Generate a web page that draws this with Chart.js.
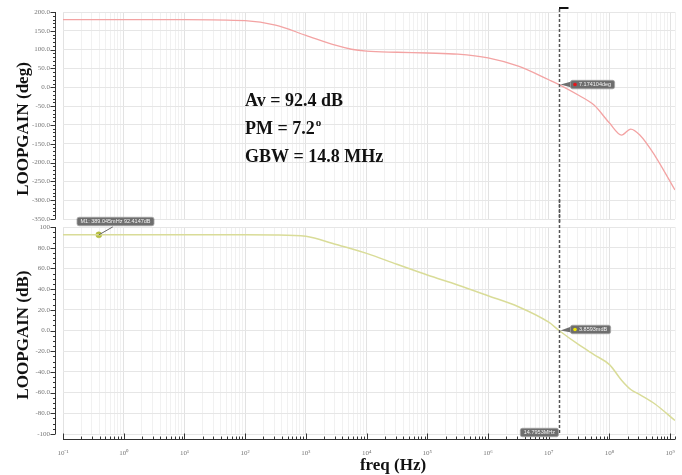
<!DOCTYPE html>
<html>
<head>
<meta charset="utf-8">
<script src="https://cdn.jsdelivr.net/npm/chart.js@4.4.0/dist/chart.umd.min.js"></script>
<style>
  html, body { margin:0; padding:0; background:#fff; }
  #wrap { position:relative; width:682px; height:475px; overflow:hidden; background:#fff; }
  #wrap canvas { position:absolute; left:0; }
  #cPhase { top:0; }
  #cGain { top:200px; }
</style>
</head>
<body>
<div id="wrap">
  <canvas id="cPhase" width="682" height="223"></canvas>
  <canvas id="cGain" width="682" height="275"></canvas>
</div>
<script>
// data
var freqs    = [0.1, 1, 10, 100, 316, 1000, 3162, 5623, 1e4, 3.16e4, 1e5, 3.16e5, 1e6, 3.16e6, 1e7, 1.48e7, 3.16e7, 5.62e7, 1e8, 1.58e8, 2.24e8, 3.16e8, 5.62e8, 1.2e9];
var phaseDeg = [180, 180, 180, 177, 165, 138, 111, 101, 96, 93, 91, 88, 78, 56, 20, 7.2, -22, -48, -95, -127, -111, -127, -182, -273];
var gainDb   = [92.4, 92.4, 92.4, 92.4, 92.3, 91, 83, 79, 74.5, 64, 53.6, 44, 33.6, 23, 8, 0, -14, -23.5, -33, -48, -57, -62, -71, -87];

var decades = [-1, 0, 1, 2, 3, 4, 5, 6, 7, 8, 9];
var phaseTicks = [200, 150, 100, 50, 0, -50, -100, -150, -200, -250, -300, -350];
var gainTicks = [100, 80, 60, 40, 20, 0, -20, -40, -60, -80, -100];

// markers
var m1Freq = 0.389045, m1Gain = 92.4147;
var gbwHz = 14.7953e6;
var pmAtGbw = 7.174104, gainAtGbw = 0.0038593;
var m1Label = 'M1: 389.045mHz 92.4147dB';
var pmLabel = '7.174104deg';
var gainLabel = '3.8593mdB';
var gbwLabel = '14.7953MHz';
var notes = ['Av = 92.4 dB', 'PM = 7.2', 'GBW = 14.8 MHz'];

var SERIF = '"Liberation Serif", "Times New Roman", serif';
var SANS = '"Liberation Sans", Arial, sans-serif';
var SUP = {'-':'\u207B','0':'\u2070','1':'\u00B9','2':'\u00B2','3':'\u00B3','4':'\u2074','5':'\u2075','6':'\u2076','7':'\u2077','8':'\u2078','9':'\u2079'};

function isDecade(v) {
  var l = Math.log10(v);
  return Math.abs(l - Math.round(l)) < 1e-6;
}
function supStr(n) {
  return String(n).split('').map(function(c){ return SUP[c]; }).join('');
}

// grid positions 1..9 x 10^n
var xGrid = [];
decades.forEach(function(e){
  for (var m = 1; m <= 9; m++) {
    var v = m * Math.pow(10, e);
    if (v <= 1.2e9) xGrid.push(v);
  }
});
xGrid.push(1.2e9);

function pts(ys) {
  return freqs.map(function(f, i){ return {x: f, y: ys[i]}; });
}

function tag(ctx, x0, yc, text, dot, pointTo) {
  ctx.font = '5.5px ' + SANS;
  var w = ctx.measureText(text).width + (dot ? 12 : 7);
  var h = 8.5, top = yc - h / 2;
  if (pointTo) {
    ctx.fillStyle = '#6e6e6e';
    ctx.beginPath();
    ctx.moveTo(pointTo[0], pointTo[1]);
    ctx.lineTo(x0 + 1, yc - 3);
    ctx.lineTo(x0 + 1, yc + 3);
    ctx.closePath();
    ctx.fill();
  }
  ctx.fillStyle = '#6e6e6e';
  ctx.strokeStyle = '#a5a5a5';
  ctx.lineWidth = 0.8;
  ctx.beginPath();
  ctx.roundRect(x0, top, w, h, 2);
  ctx.fill();
  ctx.stroke();
  var tx = x0 + 3.5;
  if (dot) {
    ctx.fillStyle = dot;
    ctx.beginPath();
    ctx.arc(x0 + 4.5, yc, 1.8, 0, Math.PI * 2);
    ctx.fill();
    tx = x0 + 8.5;
  }
  ctx.fillStyle = '#f4f4f4';
  ctx.textAlign = 'left';
  ctx.textBaseline = 'middle';
  ctx.fillText(text, tx, yc + 0.3);
}

var bode = {
  id: 'bode',
  afterDraw: function(chart, args, o) {
    var ctx = chart.ctx, a = chart.chartArea, xs = chart.scales.x, ys = chart.scales.y;
    ctx.save();

    // y axis set off from the plot, with minor ticks
    var ax = a.left - 7.5;
    ctx.strokeStyle = '#333';
    ctx.lineWidth = 1;
    ctx.beginPath();
    ctx.moveTo(ax, a.top); ctx.lineTo(ax, a.bottom);
    for (var v = ys.min; v <= ys.max + 1e-9; v += o.minor) {
      var py = Math.round(ys.getPixelForValue(v)) + 0.5;
      var len = Math.abs(v % o.major) < 1e-9 ? 5 : 2.5;
      ctx.moveTo(ax - len, py); ctx.lineTo(ax, py);
    }
    ctx.stroke();

    // y title
    ctx.fillStyle = '#111';
    ctx.font = 'bold 17px ' + SERIF;
    ctx.textAlign = 'center';
    ctx.textBaseline = 'middle';
    ctx.save();
    ctx.translate(24, o.titleY);
    ctx.rotate(-Math.PI / 2);
    ctx.fillText(o.title, 0, 0);
    ctx.restore();

    var lx = Math.round(xs.getPixelForValue(gbwHz)) + 0.5;

    if (o.part === 'phase') {
      // GBW cursor
      ctx.strokeStyle = '#555';
      ctx.lineWidth = 1.5;
      ctx.setLineDash([3, 2]);
      ctx.beginPath();
      ctx.moveTo(lx, 9); ctx.lineTo(lx, chart.height);
      ctx.stroke();
      ctx.setLineDash([]);
      ctx.strokeStyle = '#111';
      ctx.lineWidth = 2;
      ctx.beginPath();
      ctx.moveTo(lx - 0.5, 8); ctx.lineTo(lx + 9, 8);
      ctx.stroke();

      // annotations
      ctx.fillStyle = '#111';
      ctx.textAlign = 'left';
      ctx.textBaseline = 'alphabetic';
      ctx.font = 'bold 18px ' + SERIF;
      ctx.fillText(notes[0], 245, 106);
      ctx.fillText(notes[1], 245, 134);
      var w = ctx.measureText(notes[1]).width;
      ctx.font = 'bold 11px ' + SERIF;
      ctx.fillText('o', 245 + w + 1, 126);
      ctx.font = 'bold 18px ' + SERIF;
      ctx.fillText(notes[2], 245, 162);

      var yp = ys.getPixelForValue(pmAtGbw);
      tag(ctx, lx + 11, yp, pmLabel, '#e8141a', [lx + 1, yp]);
    } else {
      ctx.strokeStyle = '#555';
      ctx.lineWidth = 1.5;
      ctx.setLineDash([3, 2]);
      ctx.beginPath();
      ctx.moveTo(lx, 0); ctx.lineTo(lx, a.bottom + 1);
      ctx.stroke();
      ctx.setLineDash([]);

      // x axis below the plot
      var bx = a.bottom + 5.5;
      ctx.strokeStyle = '#333';
      ctx.lineWidth = 1;
      ctx.beginPath();
      ctx.moveTo(a.left, bx); ctx.lineTo(a.right, bx);
      xGrid.forEach(function(f){
        var px = Math.round(xs.getPixelForValue(f)) + 0.5;
        var len = isDecade(f) ? 6 : 3;
        ctx.moveTo(px, bx); ctx.lineTo(px, bx - len);
      });
      ctx.stroke();

      ctx.fillStyle = '#111';
      ctx.font = 'bold 17px ' + SERIF;
      ctx.textAlign = 'center';
      ctx.textBaseline = 'middle';
      ctx.fillText('freq (Hz)', 393, 266);

      // M1 tag
      var mx = xs.getPixelForValue(m1Freq), my = ys.getPixelForValue(m1Gain);
      ctx.strokeStyle = '#666';
      ctx.lineWidth = 1;
      ctx.beginPath();
      ctx.moveTo(mx, my); ctx.lineTo(mx + 14, my - 8);
      ctx.stroke();
      tag(ctx, 77, 21.5, m1Label, null, null);

      var yg = ys.getPixelForValue(gainAtGbw);
      tag(ctx, lx + 11, yg - 1, gainLabel, '#f0e600', [lx + 1, yg]);
      ctx.font = '5.5px ' + SANS;
      var fw = ctx.measureText(gbwLabel).width + 7;
      tag(ctx, lx - 1 - fw, a.bottom - 1.5, gbwLabel, null, null);
    }
    ctx.restore();
  }
};

function noPad(s) {
  s.paddingLeft = 0; s.paddingRight = 0; s.paddingTop = 0; s.paddingBottom = 0;
}

function xScale(bottom) {
  return {
    type: 'logarithmic',
    min: 0.1,
    max: 1.2e9,
    afterBuildTicks: function(s){ s.ticks = xGrid.map(function(v){ return {value: v, major: isDecade(v)}; }); },
    afterFit: function(s){ s.height = bottom ? 41 : 0; noPad(s); },
    border: {display: false},
    grid: {
      drawTicks: false,
      color: function(c){ return isDecade(c.tick.value) ? '#e2e2e2' : '#f1f1f1'; }
    },
    ticks: {
      display: bottom,
      autoSkip: false,
      maxRotation: 0,
      padding: 15,
      color: '#777',
      font: {family: SERIF, size: 7},
      callback: function(v){ return isDecade(v) ? '10' + supStr(Math.round(Math.log10(v))) : ''; }
    }
  };
}

function yScale(lo, hi, list, fmt) {
  return {
    min: lo,
    max: hi,
    afterBuildTicks: function(s){ s.ticks = list.map(function(v){ return {value: v}; }); },
    afterFit: function(s){ s.width = 63; noPad(s); },
    border: {display: false},
    grid: {drawTicks: false, color: '#e6e6e6'},
    ticks: {
      padding: 13,
      autoSkip: false,
      color: '#777',
      font: {family: SERIF, size: 7},
      callback: fmt
    }
  };
}

var phaseChart = new Chart(document.getElementById('cPhase'), {
  type: 'line',
  data: {
    datasets: [{
      label: 'phase',
      data: pts(phaseDeg),
      borderColor: '#f3a3a3',
      borderWidth: 1.3,
      pointRadius: 0,
      cubicInterpolationMode: 'monotone'
    }]
  },
  options: {
    responsive: false,
    animation: false,
    events: [],
    layout: {padding: {left: 0, right: 7, top: 12, bottom: 4}},
    scales: {
      x: xScale(false),
      y: yScale(-350, 200, phaseTicks, function(v){ return v.toFixed(1); })
    },
    plugins: {
      legend: {display: false},
      tooltip: {enabled: false},
      bode: {part: 'phase', minor: 10, major: 50, title: 'LOOPGAIN (deg)', titleY: 129}
    }
  },
  plugins: [bode]
});

var gainChart = new Chart(document.getElementById('cGain'), {
  type: 'line',
  data: {
    datasets: [{
      label: 'gain',
      data: pts(gainDb),
      borderColor: '#d9dc98',
      borderWidth: 1.5,
      pointRadius: 0,
      cubicInterpolationMode: 'monotone'
    }, {
      label: 'M1',
      data: [{x: m1Freq, y: m1Gain}],
      showLine: false,
      pointRadius: 3,
      pointBackgroundColor: '#b9c13f',
      pointBorderColor: '#a9b030',
      pointBorderWidth: 0.5
    }]
  },
  options: {
    responsive: false,
    animation: false,
    events: [],
    layout: {padding: {left: 0, right: 7, top: 27, bottom: 0}},
    scales: {
      x: xScale(true),
      y: yScale(-100, 100, gainTicks, function(v){ return Math.abs(v) === 100 ? String(v) : v.toFixed(1); })
    },
    plugins: {
      legend: {display: false},
      tooltip: {enabled: false},
      bode: {part: 'gain', minor: 5, major: 20, title: 'LOOPGAIN (dB)', titleY: 135}
    }
  },
  plugins: [bode]
});
</script>
</body>
</html>
